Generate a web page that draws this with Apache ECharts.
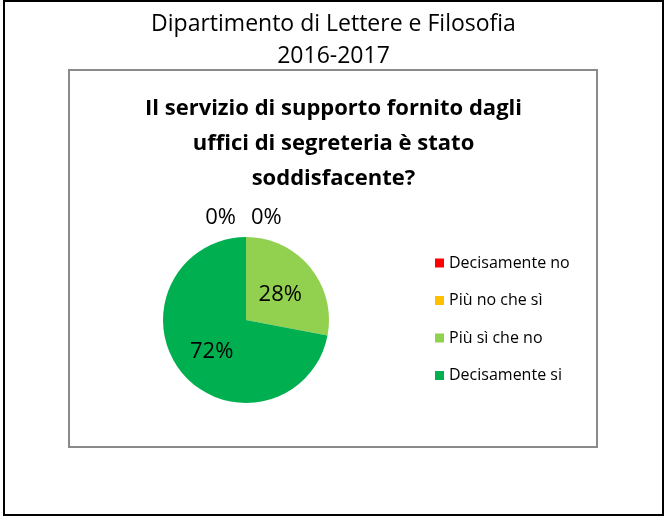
<!DOCTYPE html>
<html>
<head>
<meta charset="utf-8">
<script src="https://cdn.jsdelivr.net/npm/echarts@6/dist/echarts.min.js"></script>
<style>
  html, body { margin: 0; padding: 0; background: #ffffff; }
  #chart { width: 667px; height: 517px; }
</style>
</head>
<body>
<div id="chart"></div>
<script>
// Survey answers and their share of responses (%)
const categories = ['Decisamente no', 'Più no che sì', 'Più sì che no', 'Decisamente si'];
const values = [0, 0, 28, 72];
const sliceColors = ['#FF0000', '#FFC000', '#92D050', '#00B050'];

const headerText = 'Dipartimento di Lettere e Filosofia\n2016-2017';
const questionText = 'Il servizio di supporto fornito dagli\nuffici di segreteria è stato\nsoddisfacente?';

const FONT = '"Open Sans", "Noto Sans", sans-serif';

const chart = echarts.init(document.getElementById('chart'), null, { renderer: 'canvas' });

chart.setOption({
  backgroundColor: '#ffffff',
  animation: false,
  color: sliceColors,
  graphic: [
    {
      // outer frame of the page cell
      type: 'rect',
      shape: { x: 4, y: 1, width: 659, height: 514 },
      style: { fill: 'none', stroke: '#000000', lineWidth: 2 },
      silent: true
    },
    {
      // chart area border
      type: 'rect',
      shape: { x: 69, y: 70, width: 528, height: 377 },
      style: { fill: 'none', stroke: '#8a8a8a', lineWidth: 2 },
      silent: true
    }
  ],
  title: [
    {
      text: headerText,
      left: 'center',
      top: 3,
      textStyle: {
        fontFamily: FONT,
        fontWeight: 'normal',
        fontSize: 23,
        lineHeight: 32,
        color: '#000000'
      }
    },
    {
      text: questionText,
      left: 'center',
      top: 86,
      textStyle: {
        fontFamily: FONT,
        fontWeight: 'bold',
        fontSize: 22,
        lineHeight: 35,
        color: '#000000'
      }
    }
  ],
  legend: {
    orient: 'vertical',
    left: 435,
    top: 253,
    padding: 0,
    icon: 'rect',
    itemWidth: 9,
    itemHeight: 9,
    itemGap: 17.5,
    data: categories,
    textStyle: {
      fontFamily: FONT,
      fontSize: 16,
      lineHeight: 20,
      color: '#000000'
    }
  },
  series: [
    {
      type: 'pie',
      center: [246, 320],
      radius: 83,
      startAngle: 90,
      clockwise: true,
      avoidLabelOverlap: false,
      minShowLabelAngle: 0,
      itemStyle: { borderWidth: 0 },
      emphasis: { disabled: true },
      data: categories.map((name, i) => ({
        name: name,
        value: values[i],
        label: values[i] === 0
          ? { position: 'outside' }
          : { position: 'inside' }
      })),
      label: {
        formatter: '{d}%',
        fontFamily: FONT,
        fontSize: 22,
        color: '#000000'
      },
      labelLine: { show: false, length: 19, length2: 0 },
      labelLayout: function (params) {
        // the two empty slices sit together at the top: put one label on each side
        if (params.dataIndex === 0) {
          return { align: 'right', dx: -5 };
        }
        if (params.dataIndex === 1) {
          return { align: 'left', dx: 10 };
        }
        return { dy: 3 };
      }
    }
  ]
});
</script>
</body>
</html>
